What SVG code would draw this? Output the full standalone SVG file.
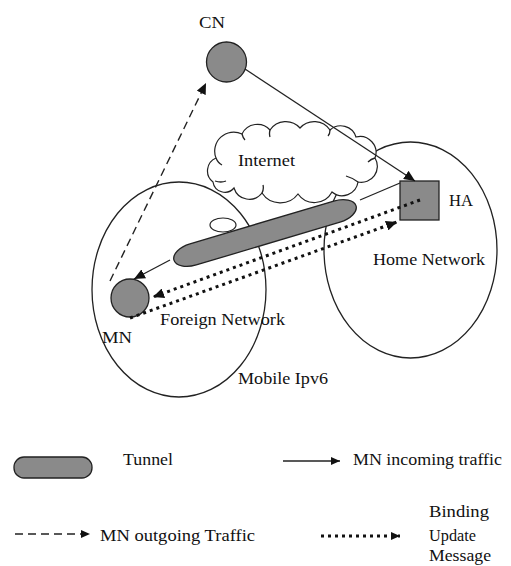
<svg xmlns="http://www.w3.org/2000/svg" width="511" height="566" viewBox="0 0 511 566">
<style>
  .t { font-family: "Liberation Serif", "DejaVu Serif", "Noto Serif", "Times New Roman", serif; font-size: 17px; fill: #111; }
  .ln { fill: none; stroke: #222; stroke-width: 1.3; }
  .gray { fill: #8a8a8a; stroke: #222; stroke-width: 1.3; }
  .dash { fill: none; stroke: #222; stroke-width: 1.4; stroke-dasharray: 8 5; }
  .dot { fill: none; stroke: #111; stroke-width: 3; stroke-dasharray: 3 4; }
</style>
<defs>
  <marker id="ah" markerUnits="userSpaceOnUse" markerWidth="12" markerHeight="10" refX="11" refY="5" orient="auto">
    <path d="M0,0 L11,5 L0,10 z" fill="#111"/>
  </marker>
  <marker id="ahs" markerUnits="userSpaceOnUse" markerWidth="10" markerHeight="8" refX="9" refY="4" orient="auto">
    <path d="M0,0 L9,4 L0,8 z" fill="#111"/>
  </marker>
</defs>
<rect width="511" height="566" fill="#fff"/>

<g id="regions">
  <ellipse class="ln" cx="179" cy="289.5" rx="87" ry="107.5"/>
  <ellipse class="ln" cx="410.5" cy="250" rx="86.5" ry="108"/>
  <text class="t" x="238" y="384" textLength="90" lengthAdjust="spacingAndGlyphs">Mobile Ipv6</text>
  <text class="t" x="160" y="325" textLength="125" lengthAdjust="spacingAndGlyphs">Foreign Network</text>
  <text class="t" x="373" y="265" textLength="112" lengthAdjust="spacingAndGlyphs">Home Network</text>
</g>

<g id="internet">
  <path d="M213,182 A14,14 0 0 1 216,158 A19,19 0 0 1 242,134 A17,17 0 0 1 270,130 A19,19 0 0 1 300,128 A19,19 0 0 1 330,130 A16,16 0 0 1 356,137 A16,16 0 0 1 375,158 A16,16 0 0 1 358,182 A16,16 0 0 1 332,192 A20,20 0 0 1 298,194 A22,22 0 0 1 262,193 A16,16 0 0 1 234,188 A12,12 0 0 1 213,182 Z" fill="#fff" stroke="#222" stroke-width="1.2"/>
  <path class="ln" d="M215,181 q6,2 11,0 M216,158 q2,5 6,7 M242,134 q1,4 3,6 M270,130 q-1,4 0,7 M330,130 q0,4 -2,6 M375,158 q-4,1 -7,4 M358,182 q-5,-4 -12,-6 M262,193 q2,-4 1,-8" stroke-width="1"/>
  <ellipse cx="223" cy="225" rx="13" ry="7" fill="#fff" stroke="#222" stroke-width="1.2"/>
  <ellipse cx="200" cy="247" rx="9" ry="5" fill="#fff" stroke="#222" stroke-width="1.2"/>
  <text class="t" x="238" y="166" textLength="57" lengthAdjust="spacingAndGlyphs">Internet</text>
</g>

<g id="tunnel">
  <rect class="gray" x="-95" y="-11" width="190" height="22" rx="20" ry="11" transform="translate(265,233) rotate(-16.6)"/>
</g>

<g id="CN">
  <circle class="gray" cx="226.5" cy="62" r="20"/>
  <text class="t" x="199" y="28" textLength="26" lengthAdjust="spacingAndGlyphs">CN</text>
</g>

<g id="HA">
  <rect class="gray" x="400" y="181" width="39" height="39"/>
  <text class="t" x="449" y="206" textLength="24" lengthAdjust="spacingAndGlyphs">HA</text>
</g>

<g id="MN">
  <circle class="gray" cx="130" cy="298" r="19"/>
  <text class="t" x="102" y="343" textLength="30" lengthAdjust="spacingAndGlyphs">MN</text>
</g>

<g id="connectors">
  <line class="ln" x1="245" y1="69" x2="415" y2="181" marker-end="url(#ah)"/>
  <line class="dash" x1="110" y1="281" x2="206" y2="83" marker-end="url(#ah)"/>
  <line class="ln" x1="400" y1="183" x2="360" y2="200"/>
  <line class="ln" x1="170" y1="260" x2="134" y2="279" marker-end="url(#ah)"/>
  <line class="dot" x1="420" y1="200" x2="153" y2="297" marker-end="url(#ah)"/>
  <line class="dot" x1="130" y1="318" x2="397" y2="222" marker-end="url(#ah)"/>
</g>

<g id="legend">
  <rect class="gray" x="14" y="457" width="78" height="21" rx="10" ry="10"/>
  <text class="t" x="123" y="465" textLength="50" lengthAdjust="spacingAndGlyphs">Tunnel</text>
  <line class="ln" x1="283" y1="461" x2="340" y2="461" marker-end="url(#ahs)"/>
  <text class="t" x="353" y="465" textLength="149" lengthAdjust="spacingAndGlyphs">MN incoming traffic</text>
  <line class="dash" x1="15" y1="534" x2="90" y2="534" stroke-dasharray="6 4" marker-end="url(#ahs)"/>
  <text class="t" x="100" y="541" textLength="155" lengthAdjust="spacingAndGlyphs">MN outgoing Traffic</text>
  <line class="dot" x1="321" y1="536" x2="400" y2="536" stroke-width="2.5" stroke-dasharray="2.5 4" marker-end="url(#ahs)"/>
  <text class="t" x="429" y="517" textLength="60" lengthAdjust="spacingAndGlyphs">Binding</text>
  <text class="t" x="429" y="541" textLength="47" lengthAdjust="spacingAndGlyphs">Update</text>
  <text class="t" x="429" y="561" textLength="62" lengthAdjust="spacingAndGlyphs">Message</text>
</g>
</svg>
